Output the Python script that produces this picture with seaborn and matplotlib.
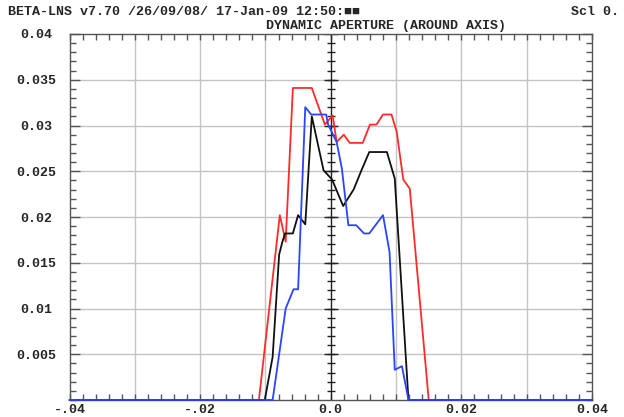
import numpy as np
import pandas as pd
import matplotlib
matplotlib.use('Agg')
import matplotlib.pyplot as plt
import seaborn as sns

# dynamic aperture curves (x in m, y in m)
red_x = [-0.04, -0.0110, -0.0078, -0.0069, -0.0058, -0.0029, -0.0009, 0.0003, 0.0009, 0.0020,
         0.0029, 0.0049, 0.0060, 0.0070, 0.0080, 0.0093, 0.0101, 0.0111, 0.0121, 0.0150, 0.04]
red_y = [0.0, 0.0, 0.0202, 0.0173, 0.0341, 0.0341, 0.0301, 0.0311, 0.0282, 0.0290,
         0.0281, 0.0281, 0.0301, 0.0301, 0.0312, 0.0312, 0.0293, 0.0241, 0.0231, 0.0, 0.0]

black_x = [-0.04, -0.0101, -0.0089, -0.0079, -0.0074, -0.0070, -0.0058, -0.0050, -0.0039, -0.0029,
           -0.0011, 0.0002, 0.0019, 0.0035, 0.0047, 0.0059, 0.0086, 0.0098, 0.0119, 0.04]
black_y = [0.0, 0.0, 0.0047, 0.0159, 0.0173, 0.0182, 0.0182, 0.0202, 0.0192, 0.0310,
           0.0251, 0.0241, 0.0212, 0.0230, 0.0251, 0.0271, 0.0271, 0.0242, 0.0, 0.0]

blue_x = [-0.04, -0.0089, -0.0069, -0.0057, -0.0050, -0.0039, -0.0030, -0.0007, -0.0004, 0.0009,
          0.0017, 0.0027, 0.0039, 0.0051, 0.0059, 0.0080, 0.0090, 0.0098, 0.0109, 0.0119, 0.04]
blue_y = [0.0, 0.0, 0.0100, 0.0121, 0.0121, 0.0320, 0.0312, 0.0312, 0.0301, 0.0282,
          0.0253, 0.0191, 0.0191, 0.0182, 0.0182, 0.0202, 0.0162, 0.0033, 0.0037, 0.0, 0.0]

x_ticks = [-0.04, -0.02, 0.0, 0.02, 0.04]
x_tick_labels = ['-.04', '-.02', '0.0', '0.02', '0.04']
y_ticks = [0.005, 0.01, 0.015, 0.02, 0.025, 0.03, 0.035, 0.04]
y_tick_labels = ['0.005', '0.01', '0.015', '0.02', '0.025', '0.03', '0.035', '0.04']

colors = {'red': '#ff2a2a', 'black': '#101010', 'blue': '#2a44ff'}

frames = []
for name, xs, ys in [('red', red_x, red_y), ('black', black_x, black_y), ('blue', blue_x, blue_y)]:
    frames.append(pd.DataFrame({'x': xs, 'y': ys, 'run': name}))
df = pd.concat(frames, ignore_index=True)

sns.set_style('white')
plt.rcParams['font.family'] = ['Liberation Mono', 'DejaVu Sans Mono']

W, H = 624, 417
fig = plt.figure(figsize=(W / 100, H / 100), dpi=100)
ax = fig.add_axes([69.5 / W, 1 - 400 / H, (592 - 69.5) / W, (400 - 34) / H])

# grid
grid_c = '#c4c4c4'
for gx in np.arange(-0.03, 0.031, 0.01):
    if abs(gx) > 1e-9:
        ax.axvline(gx, color=grid_c, lw=1.0, zorder=0)
for gy in np.arange(0.005, 0.0351, 0.005):
    ax.axhline(gy, color=grid_c, lw=1.0, zorder=0)

# central axis with its ticks
ax.axvline(0, color='#222222', lw=1.0, zorder=1)
minor_y = np.arange(0.001, 0.04, 0.001)
ax.plot(np.zeros(len(minor_y)), minor_y, ls='none', marker='_', ms=6, mew=1.0, color='#222222', zorder=1)
ax.plot(np.zeros(len(y_ticks)), y_ticks, ls='none', marker='_', ms=10, mew=1.0, color='#222222', zorder=1)

sns.lineplot(data=df, x='x', y='y', hue='run', palette=colors, sort=False, estimator=None,
             legend=False, lw=1.3, ax=ax, zorder=3)
for line in ax.get_lines()[-3:]:
    line.set_clip_on(False)

ax.set_xlim(-0.04, 0.04)
ax.set_ylim(0, 0.04)
ax.set_xlabel('')
ax.set_ylabel('')

ax.set_xticks(x_ticks, x_tick_labels)
ax.set_xticks(np.arange(-0.04, 0.0401, 0.002), minor=True)
ax.set_yticks(y_ticks, y_tick_labels)
ax.set_yticks(np.arange(0, 0.0401, 0.001), minor=True)

ax.tick_params(axis='x', which='both', direction='in', top=True, bottom=True, length=4,
               width=1, color='#555555', labelsize=9.5, pad=3)
ax.tick_params(axis='y', which='major', direction='in', left=True, right=True, length=7,
               width=1, color='#555555', labelsize=9.5, pad=24)
ax.tick_params(axis='y', which='minor', direction='in', left=True, right=True, length=4,
               width=1, color='#555555')
for lab in ax.get_yticklabels():
    lab.set_ha('center')
    lab.set_fontweight('bold')
for lab in ax.get_xticklabels():
    lab.set_fontweight('bold')

for sp in ax.spines.values():
    sp.set_color('#555555')
    sp.set_linewidth(1.0)

fig.text(8 / W, 1 - 12 / H, 'BETA-LNS v7.70 /26/09/08/ 17-Jan-09 12:50:\u25a0\u25a0',
         ha='left', va='center', fontsize=9.6, fontweight='bold')
fig.text(571 / W, 1 - 12 / H, 'Scl 0.', ha='left', va='center', fontsize=9.6, fontweight='bold')
fig.text(386 / W, 1 - 26 / H, 'DYNAMIC APERTURE (AROUND AXIS)', ha='center', va='center',
         fontsize=9.6, fontweight='bold')

fig.savefig('out.png', dpi=100)
